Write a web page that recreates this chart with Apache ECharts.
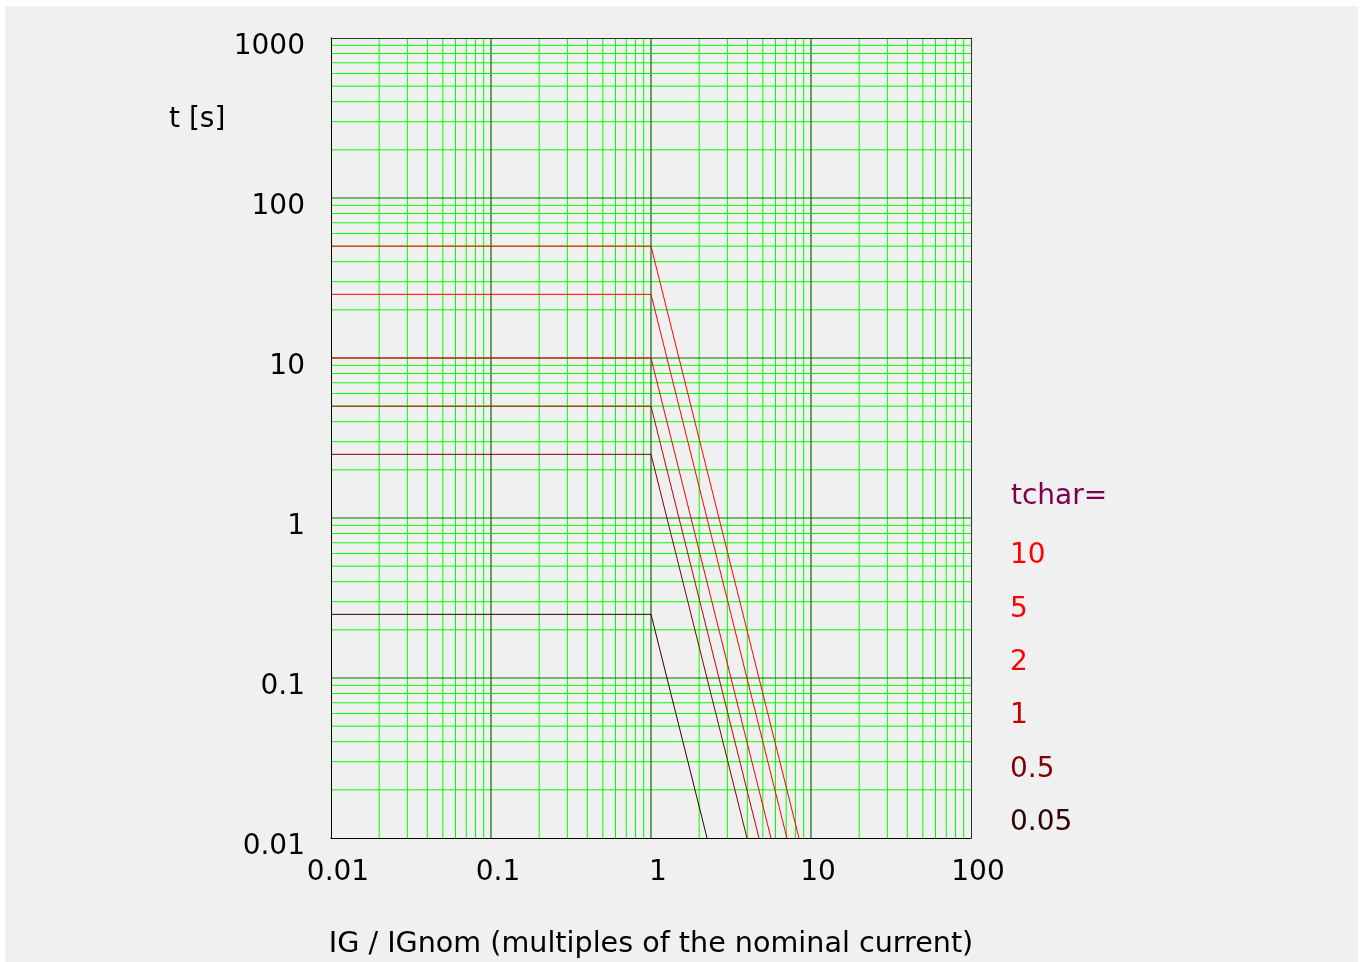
<!DOCTYPE html>
<html>
<head>
<meta charset="utf-8">
<script src="https://cdn.jsdelivr.net/npm/echarts@6/dist/echarts.min.js"></script>
<style>
html,body{margin:0;padding:0;background:#ffffff;width:1365px;height:962px;overflow:hidden;}
#chart{position:absolute;left:5px;top:6px;width:1353px;height:956px;background:#f0f0f0;}
</style>
</head>
<body>
<div id="chart"></div>
<script>
// ---- data ----
const tcharLabels = ['10', '5', '2', '1', '0.5', '0.05'];
const plateauTimes = [50, 25, 10, 5, 2.5, 0.25];        // t [s] for I/In <= 1
const kneeCurrent = [1, 1, 1, 1, 1, 1];                  // I/In where the curve bends
const endCurrents = [8.41, 7.07, 5.62, 4.73, 3.98, 2.24]; // I/In where the curve reaches 0.01 s
const startCurrent = 0.01;
const endTime = 0.01;
const seriesColors = ['#ff0000', '#ff0000', '#ee0000', '#c00000', '#800000', '#300000'];
const legendColors = ['#ff0000', '#ff0000', '#ff0000', '#c00000', '#800000', '#300000'];

const xTickValues = [0.01, 0.1, 1, 10, 100];
const xTickLabels = ['0.01', '0.1', '1', '10', '100'];
const yTickValues = [0.01, 0.1, 1, 10, 100, 1000];
const yTickLabels = ['0.01', '0.1', '1', '10', '100', '1000'];

const xMajorInner = [0.1, 1, 10];
const yMajorInner = [0.1, 1, 10, 100];
const minorSteps = [2, 3, 4, 5, 6, 7, 8, 9];
const xDecades = [0.01, 0.1, 1, 10];
const yDecades = [0.01, 0.1, 1, 10, 100];

// ---- build ----
const FONT = '"DejaVu Sans", sans-serif';
const FS = 28;
const X_MIN = 0.01, X_MAX = 100, Y_MIN = 0.01, Y_MAX = 1000;

function labelFor(values, labels) {
  return function (v) {
    for (let i = 0; i < values.length; i++) {
      if (Math.abs(Math.log10(v) - Math.log10(values[i])) < 1e-6) return labels[i];
    }
    return '';
  };
}

const xMinor = [];
xDecades.forEach(d => minorSteps.forEach(s => xMinor.push(+(d * s).toPrecision(6))));
const yMinor = [];
yDecades.forEach(d => minorSteps.forEach(s => yMinor.push(+(d * s).toPrecision(6))));

// grid line items: [x, y, orientation] -> 0 vertical, 1 horizontal
function gridItems(xs, ys) {
  return xs.map(v => [v, Y_MIN, 0]).concat(ys.map(v => [X_MIN, v, 1]));
}

function gridRenderer(color, width) {
  return function (params, api) {
    const cs = params.coordSys;
    const p = api.coord([api.value(0), api.value(1)]);
    if (api.value(2) === 0) {
      return { type: 'line', silent: true,
        shape: { x1: p[0], y1: cs.y, x2: p[0], y2: cs.y + cs.height },
        style: { stroke: color, lineWidth: width } };
    }
    return { type: 'line', silent: true,
      shape: { x1: cs.x, y1: p[1], x2: cs.x + cs.width, y2: p[1] },
      style: { stroke: color, lineWidth: width } };
  };
}

const curveSeries = tcharLabels.map((name, i) => ({
  name: name,
  type: 'line',
  xAxisIndex: 0,
  yAxisIndex: 0,
  z: 4,
  symbol: 'none',
  silent: true,
  animation: false,
  lineStyle: { color: seriesColors[i], width: 1 },
  data: [
    [startCurrent, plateauTimes[i]],
    [kneeCurrent[i], plateauTimes[i]],
    [endCurrents[i], endTime]
  ]
}));

const helperSeries = [
  {
    name: 'minorGrid', type: 'custom', coordinateSystem: 'cartesian2d',
    xAxisIndex: 0, yAxisIndex: 0, z: 1, silent: true, animation: false, clip: false,
    renderItem: gridRenderer('#00ff00', 1),
    data: gridItems(xMinor, yMinor)
  },
  {
    name: 'majorGrid', type: 'custom', coordinateSystem: 'cartesian2d',
    xAxisIndex: 0, yAxisIndex: 0, z: 2, silent: true, animation: false, clip: false,
    renderItem: gridRenderer('#007000', 1.2),
    data: gridItems(xMajorInner, yMajorInner)
  }
];

const textGraphics = [
  { type: 'text', left: 164, top: 116 - FS / 2 - 2, style: { text: 't [s]', fill: '#000', font: FS + 'px ' + FONT } },
  { type: 'text', left: 1006, top: 493 - FS / 2 - 2, style: { text: 'tchar=', fill: '#7a0050', font: FS + 'px ' + FONT } }
];
const legendY = [552, 606, 659, 712, 766, 819];
tcharLabels.forEach((t, i) => {
  textGraphics.push({
    type: 'text', left: 1005, top: legendY[i] - FS / 2 - 2,
    style: { text: t, fill: legendColors[i], font: FS + 'px ' + FONT }
  });
});

const noLines = {
  axisTick: { show: false }, axisLabel: { show: false },
  splitLine: { show: false }, minorTick: { show: false }, minorSplitLine: { show: false }
};

const chart = echarts.init(document.getElementById('chart'), null, { renderer: 'canvas' });
chart.setOption({
  backgroundColor: '#f0f0f0',
  animation: false,
  grid: { left: 326, top: 32, width: 640, height: 800, show: false, containLabel: false, outerBoundsMode: 'none' },
  xAxis: [
    {
      type: 'log', logBase: 10, min: X_MIN, max: X_MAX, z: 6,
      name: 'IG / IGnom (multiples of the nominal current)',
      nameLocation: 'middle', nameGap: 92,
      nameTextStyle: { fontFamily: FONT, fontSize: 28.6, color: '#000' },
      axisLine: { show: true, lineStyle: { color: '#000', width: 1 } },
      axisTick: { show: false },
      splitLine: { show: false },
      minorTick: { show: false }, minorSplitLine: { show: false },
      axisLabel: {
        formatter: labelFor(xTickValues, xTickLabels),
        fontFamily: FONT, fontSize: FS, color: '#000', margin: 21,
        padding: [0, 0, 0, 14], showMinLabel: true, showMaxLabel: true
      }
    },
    Object.assign({
      type: 'log', logBase: 10, min: X_MIN, max: X_MAX, position: 'top', z: 6,
      axisLine: { show: true, onZero: false, lineStyle: { color: '#1f3a1f', width: 1 } }
    }, noLines)
  ],
  yAxis: [
    {
      type: 'log', logBase: 10, min: Y_MIN, max: Y_MAX, z: 6,
      axisLine: { show: true, lineStyle: { color: '#000', width: 1 } },
      axisTick: { show: false },
      splitLine: { show: false },
      minorTick: { show: false }, minorSplitLine: { show: false },
      axisLabel: {
        formatter: labelFor(yTickValues, yTickLabels),
        fontFamily: FONT, fontSize: FS, color: '#000', margin: 26,
        verticalAlign: 'top', lineHeight: 18,
        showMinLabel: true, showMaxLabel: true
      }
    },
    Object.assign({
      type: 'log', logBase: 10, min: Y_MIN, max: Y_MAX, position: 'right', z: 6,
      axisLine: { show: true, onZero: false, lineStyle: { color: '#1f3a1f', width: 1 } }
    }, noLines)
  ],
  series: helperSeries.concat(curveSeries),
  graphic: textGraphics
});
</script>
</body>
</html>
